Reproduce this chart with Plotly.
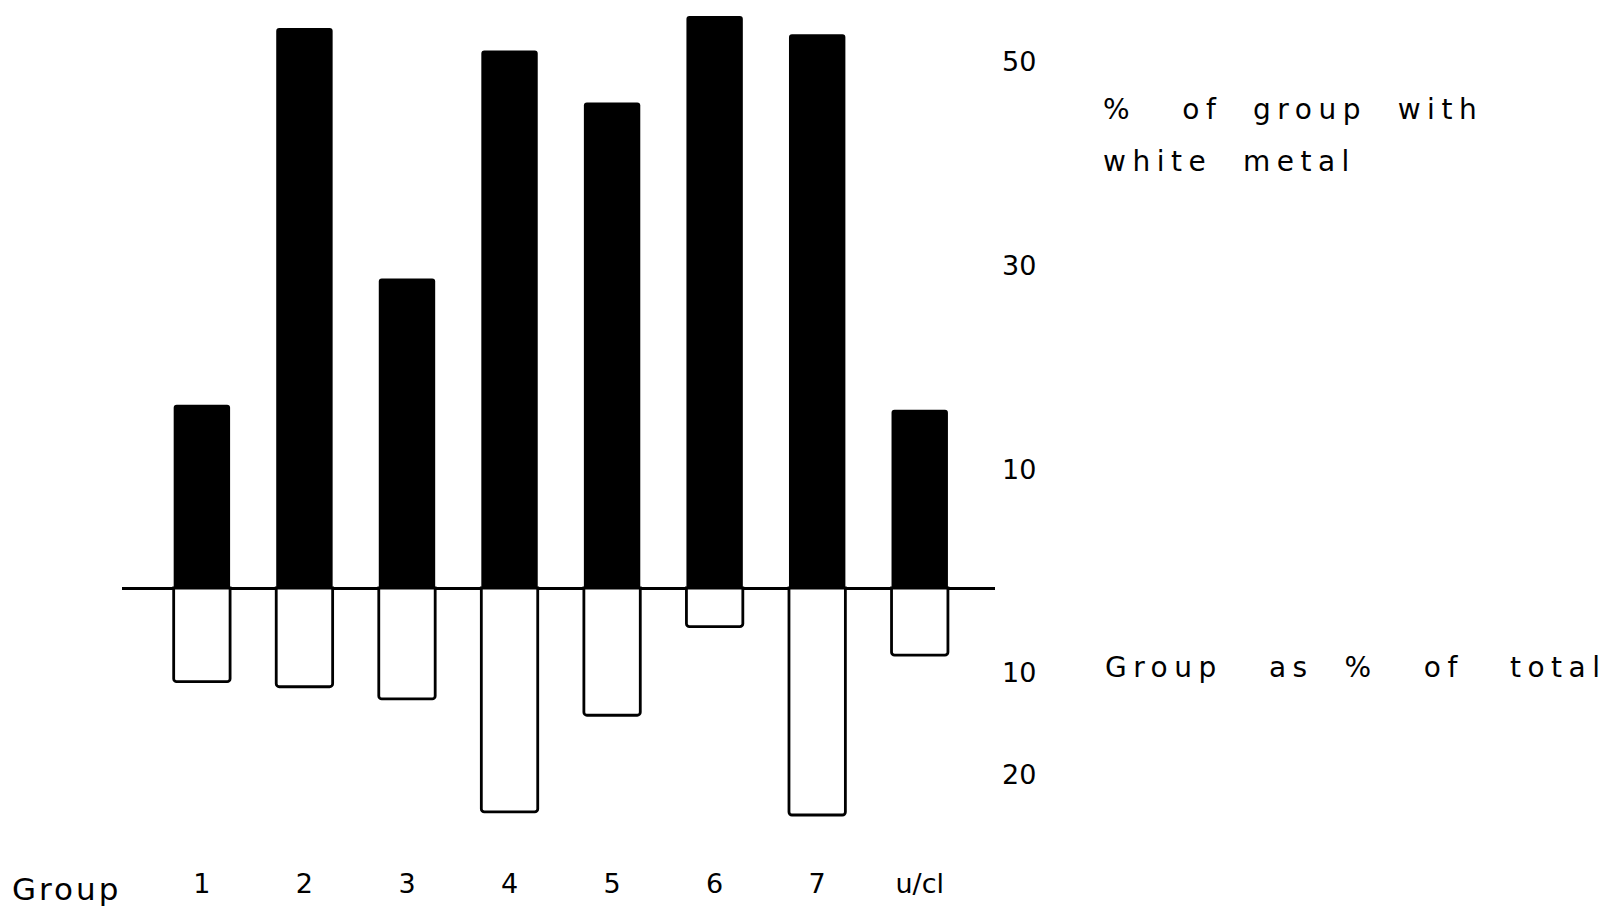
import plotly.graph_objects as go

# ---- data ----
groups = ["1", "2", "3", "4", "5", "6", "7", "u/cl"]
white_metal_pct = [18.0, 55.0, 30.4, 52.8, 47.7, 56.2, 54.4, 17.5]   # upper (black) bars
group_pct_total = [9.2, 9.7, 10.9, 22.0, 12.5, 3.8, 22.3, 6.6]       # lower (white) bars
y_tick_vals = [50, 30, 10, -10, -20]
y_tick_text = ["50", "30", "10", "10", "20"]

FONT = "DejaVu Sans"

fig = go.Figure()
fig.add_trace(go.Bar(
    x=groups, y=white_metal_pct, width=0.55,
    marker=dict(color="black", line=dict(width=0), cornerradius=3),
    hoverinfo="skip",
))
fig.add_trace(go.Bar(
    x=groups, y=[-v for v in group_pct_total], width=0.55,
    marker=dict(color="white", line=dict(color="black", width=2.8), cornerradius=3),
    hoverinfo="skip",
))

fig.update_layout(
    width=1621, height=912,
    margin=dict(l=122, r=626, t=5, b=47, autoexpand=False),
    paper_bgcolor="white", plot_bgcolor="white",
    barmode="overlay", showlegend=False,
    font=dict(family=FONT, color="black"),
    xaxis=dict(
        type="category", range=[-0.779, 7.734], automargin=False,
        showgrid=False, zeroline=False, showline=False, ticks="",
        tickfont=dict(family=FONT, size=27, color="black"),
        ticklabelstandoff=0,
    ),
    yaxis=dict(
        range=[-27.21, 57.27], side="right", automargin=False,
        tickvals=y_tick_vals, ticktext=y_tick_text,
        showgrid=False, showline=False, ticks="",
        zeroline=True, zerolinecolor="black", zerolinewidth=3,
        tickfont=dict(family=FONT, size=27, color="black"),
        ticklabelshift=-17, ticklabelstandoff=6,
    ),
    annotations=[
        dict(text="Group", xref="paper", yref="paper", x=0, y=-0.028,
             xanchor="right", yanchor="middle", align="left", xshift=-14,
             showarrow=False, font=dict(family=FONT, size=31, color="black")),
        dict(text="%   of  group  with", xref="paper", yref="y", x=1.1214, y=47.0,
             xanchor="left", yanchor="middle", align="left",
             showarrow=False, font=dict(family=FONT, size=28, color="black")),
        dict(text="white  metal", xref="paper", yref="y", x=1.1214, y=41.9,
             xanchor="left", yanchor="middle", align="left",
             showarrow=False, font=dict(family=FONT, size=28, color="black")),
        dict(text="Group   as  %   of   total", xref="paper", yref="y", x=1.1237, y=-7.8,
             xanchor="left", yanchor="middle", align="left",
             showarrow=False, font=dict(family=FONT, size=28, color="black")),
    ],
)

post = """
document.body.style.margin = '0';
var gd = document.getElementById('{plot_id}');
gd.querySelectorAll('text.annotation-text').forEach(function(t){
  var s = t.textContent;
  t.style.letterSpacing = (s === 'Group') ? '3px' : '6.5px';
});
"""

fig.write_html("out.html", post_script=post, config={"displayModeBar": False})
